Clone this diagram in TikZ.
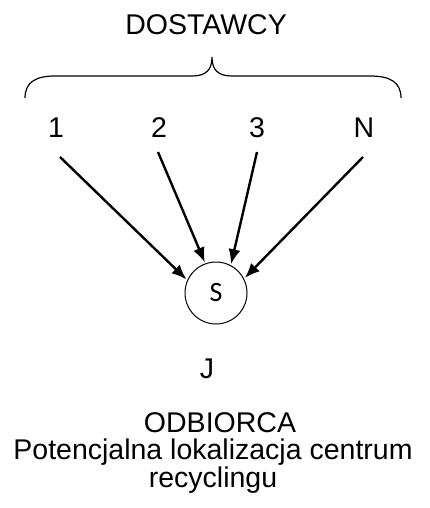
\documentclass[tikz,border=0pt]{standalone}
\usepackage{fontspec}
\setmainfont{Liberation Sans}
\newfontfamily\calfont{Carlito}
\usetikzlibrary{arrows.meta}
\begin{document}
\begin{tikzpicture}[x=1pt,y=-1pt,
  lbl/.style={font=\fontsize{28.5}{30}\selectfont,inner sep=0pt,anchor=base},
  arr/.style={line width=2.4pt,-{Latex[length=15pt,width=12pt]},shorten >=1pt},
  brace/.style={line width=1.2pt}]
\useasboundingbox (0,0) rectangle (429,508);
\node[lbl] (dost) at (206,35) {DOSTAWCY};
\draw[brace] (25,98) .. controls (25,82) and (36,76) .. (55,76) -- (192,76)
  .. controls (206,76) and (212,70) .. (212,57)
  .. controls (212,70) and (218,76) .. (232,76) -- (370,76)
  .. controls (390,76) and (401,82) .. (401,98);
\node[lbl] (n1) at (56,137) {1};
\node[lbl] (n2) at (159,137) {2};
\node[lbl] (n3) at (257,137) {3};
\node[lbl] (nN) at (364,137) {N};
\node[draw,circle,line width=1pt,minimum size=62pt,inner sep=0pt,
  font=\calfont\fontsize{28}{30}\selectfont] (s) at (216,293) {S};
\coordinate (c1) at (60,157);
\coordinate (c2) at (158,152);
\coordinate (c3) at (257,152);
\coordinate (cN) at (363,157);
\draw[arr] (c1) -- (s.156);
\draw[arr] (c2) -- (s.110);
\draw[arr] (c3) -- (s.62);
\draw[arr] (cN) -- (s.27);
\node[lbl] (j) at (207,378) {J};
\node[lbl,align=center,font=\fontsize{28.5}{24}\selectfont] (odb) at (213,487)
  {\hspace*{14pt}ODBIORCA\\[3pt]Potencjalna lokalizacja centrum\\recyclingu};
\end{tikzpicture}
\end{document}
